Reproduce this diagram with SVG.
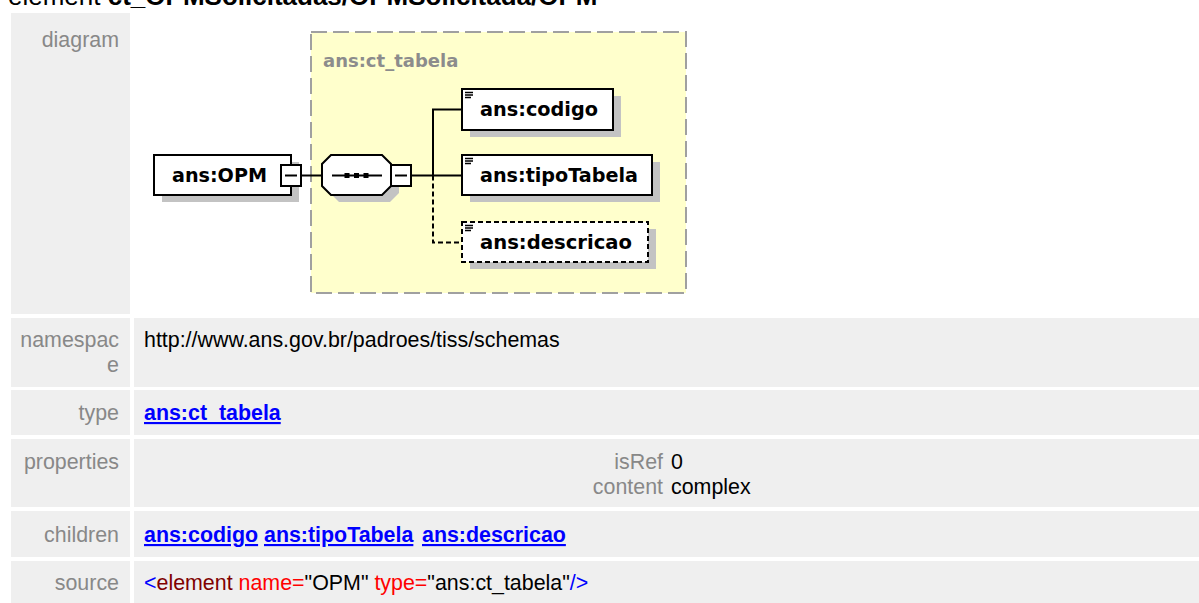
<svg xmlns="http://www.w3.org/2000/svg" width="1199" height="603" viewBox="0 0 1199 603">
<defs>
<style>
.cell{fill:#efefef}
.lbl{font-family:"Liberation Sans",Arial,sans-serif;font-size:21.4px;fill:#888888;text-anchor:end}
.val{font-family:"Liberation Sans",Arial,sans-serif;font-size:21.4px;fill:#000000}
.link{font-family:"Liberation Sans",Arial,sans-serif;font-size:21.4px;font-weight:bold;fill:#0000ff;text-decoration:underline}
.node{font-family:"DejaVu Sans",Verdana,sans-serif;font-weight:bold;font-size:19px;fill:#000000}
.box{fill:#ffffff;stroke:#000000;stroke-width:2}
.shadow{fill:#c3c3c3}
.conn{stroke:#000000;stroke-width:2;fill:none}
.dash{stroke-dasharray:5,3}
.icon{stroke:#000000;stroke-width:1.3}
</style>
</defs>
<rect x="0" y="0" width="1199" height="603" fill="#ffffff"/>
<text x="8" y="4.5" font-family="Liberation Sans, Arial, sans-serif" font-size="26" fill="#000000">element <tspan font-weight="bold">ct_OPMSolicitadas/OPMSolicitada/OPM</tspan></text>

<g id="table">
<rect class="cell" x="11" y="13" width="119" height="301"/>
<rect class="cell" x="11" y="318" width="119" height="69"/>
<rect class="cell" x="134" y="318" width="1065" height="69"/>
<rect class="cell" x="11" y="390" width="119" height="45"/>
<rect class="cell" x="134" y="390" width="1065" height="45"/>
<rect class="cell" x="11" y="439" width="119" height="68"/>
<rect class="cell" x="134" y="439" width="1065" height="68"/>
<rect class="cell" x="11" y="511" width="119" height="46"/>
<rect class="cell" x="134" y="511" width="1065" height="46"/>
<rect class="cell" x="11" y="561" width="119" height="42"/>
<rect class="cell" x="134" y="561" width="1065" height="42"/>
<text class="lbl" x="119" y="47">diagram</text>
<text class="lbl" x="119" y="347">namespac</text>
<text class="lbl" x="119" y="372">e</text>
<text class="lbl" x="119" y="420">type</text>
<text class="lbl" x="119" y="469">properties</text>
<text class="lbl" x="119" y="542">children</text>
<text class="lbl" x="119" y="590">source</text>
<text class="val" x="144" y="347">http://www.ans.gov.br/padroes/tiss/schemas</text>
<text class="link" x="144" y="420">ans:ct_tabela</text>
<text class="lbl" x="663" y="469">isRef</text>
<text class="val" x="671" y="469">0</text>
<text class="lbl" x="663" y="494">content</text>
<text class="val" x="671" y="494">complex</text>
<text class="link" x="144" y="542">ans:codigo</text>
<text class="link" x="264" y="542">ans:tipoTabela</text>
<text class="link" x="422" y="542">ans:descricao</text>
<text class="val" x="144" y="590"><tspan fill="#0000ff">&lt;</tspan><tspan fill="#800000">element</tspan><tspan fill="#ff0000"> name=</tspan><tspan fill="#000000">"OPM"</tspan><tspan fill="#ff0000"> type=</tspan><tspan fill="#000000">"ans:ct_tabela"</tspan><tspan fill="#0000ff">/&gt;</tspan></text>
</g>

<g id="ct_tabela">
<rect x="311" y="32" width="375" height="261" fill="#ffffcc" stroke="#a0a0a0" stroke-width="2" stroke-dasharray="16,6"/>
<text x="323" y="67" font-family="DejaVu Sans, Verdana, sans-serif" font-weight="bold" font-size="18" fill="#8c8c8c">ans:ct_tabela</text>
</g>

<g id="connectors">
<line class="conn" x1="301" y1="175.5" x2="322" y2="175.5"/>
<line class="conn" x1="411" y1="175.5" x2="462" y2="175.5"/>
<polyline class="conn" points="462,109.5 433,109.5 433,175.5"/>
<polyline class="conn dash" points="433,175.5 433,242.5 462,242.5"/>
</g>

<g id="OPM">
<rect class="shadow" x="162" y="162" width="137" height="40"/>
<rect class="box" x="154" y="155" width="137" height="40"/>
<text class="node" x="172" y="182" textLength="95" lengthAdjust="spacingAndGlyphs">ans:OPM</text>
<rect class="box" x="281" y="165" width="20" height="21"/>
<line class="conn" x1="285" y1="175.5" x2="297" y2="175.5"/>
</g>

<g id="sequence">
<polygon class="shadow" points="339,162 390,162 399,171 399,193 390,202 339,202 330,193 330,171"/>
<polygon class="box" points="331,155 382,155 391,164 391,186 382,195 331,195 322,186 322,164"/>
<line class="conn" x1="332" y1="175.5" x2="382" y2="175.5"/>
<rect x="344.5" y="173" width="5" height="5" fill="#000"/>
<rect x="354" y="173" width="5" height="5" fill="#000"/>
<rect x="363.5" y="173" width="5" height="5" fill="#000"/>
<rect class="box" x="391" y="165" width="20" height="21"/>
<line class="conn" x1="395" y1="175.5" x2="407" y2="175.5"/>
</g>

<g id="codigo">
<rect class="shadow" x="470" y="96" width="151" height="41"/>
<rect class="box" x="462" y="89" width="151" height="41"/>
<path class="icon" d="M465 92.5h8M465 95h8M465 97.5h6"/>
<text class="node" x="480" y="116" textLength="118" lengthAdjust="spacingAndGlyphs">ans:codigo</text>
</g>

<g id="tipoTabela">
<rect class="shadow" x="470" y="162" width="190" height="40"/>
<rect class="box" x="462" y="155" width="190" height="40"/>
<path class="icon" d="M465 158.5h8M465 161h8M465 163.5h6"/>
<text class="node" x="480" y="182" textLength="158" lengthAdjust="spacingAndGlyphs">ans:tipoTabela</text>
</g>

<g id="descricao">
<rect class="shadow" x="470" y="229" width="186" height="40"/>
<rect class="box dash" x="462" y="222" width="186" height="40"/>
<path class="icon" d="M465 225.5h8M465 228h8M465 230.5h6"/>
<text class="node" x="480" y="249" textLength="152" lengthAdjust="spacingAndGlyphs">ans:descricao</text>
</g>
</svg>
